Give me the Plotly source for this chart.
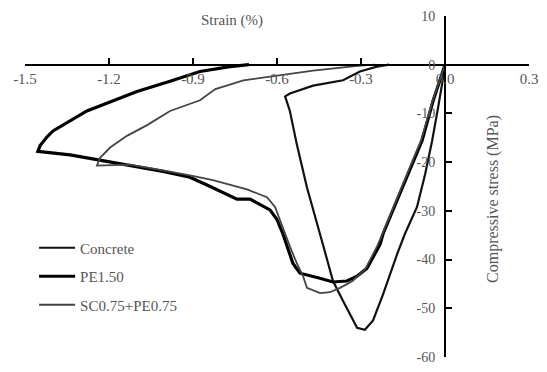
import plotly.graph_objects as go

# ---- data (strain %, stress MPa) ----
concrete_strain = [0, -0.007, -0.025, -0.046, -0.071, -0.100, -0.143, -0.171, -0.221, -0.257,
                   -0.286, -0.314, -0.364, -0.400, -0.436, -0.457, -0.493, -0.529, -0.554, -0.571,
                   -0.554, -0.471, -0.364, -0.304, -0.243, -0.20]
concrete_stress = [0, -2.8, -8.9, -15.6, -22.5, -29.2, -34.7, -38.9, -47.1, -52.5,
                   -54.4, -54.0, -48.5, -44.4, -36.9, -32.7, -25.2, -16.4, -9.5, -6.5,
                   -5.9, -4.3, -3.2, -1.4, -0.4, 0]

pe_strain = [0, -0.043, -0.082, -0.125, -0.171, -0.221, -0.232, -0.279, -0.314, -0.35,
             -0.40, -0.45, -0.50, -0.518, -0.543, -0.579, -0.60, -0.625, -0.696, -0.743,
             -0.85, -0.911, -1.007, -1.125, -1.232, -1.339, -1.454,
             -1.446, -1.421, -1.40, -1.279, -1.207, -1.10, -0.982, -0.875, -0.768, -0.70]
pe_stress = [0, -7.5, -15.6, -21.7, -27.8, -34.7, -36.9, -41.8, -43.4, -44.4,
             -44.6, -43.8, -43.0, -42.8, -40.8, -34.7, -31.8, -29.8, -27.6, -27.6,
             -24.7, -23.1, -21.9, -20.7, -19.5, -18.5, -17.8,
             -16.6, -14.8, -13.6, -9.5, -7.9, -5.5, -3.4, -1.4, -0.4, 0]

sc_strain = [0, -0.045, -0.086, -0.13, -0.176, -0.226, -0.24, -0.285, -0.33, -0.375,
             -0.411, -0.446, -0.493, -0.507, -0.529, -0.554, -0.589, -0.607, -0.636, -0.707,
             -0.829, -0.911, -1.007, -1.125, -1.243,
             -1.232, -1.196, -1.136, -1.064, -0.982, -0.875, -0.82, -0.72, -0.589, -0.471,
             -0.304, -0.25]
sc_stress = [0, -7.5, -15.6, -21.7, -27.8, -34.7, -37.0, -42.0, -44.4, -45.8,
             -46.7, -46.9, -45.8, -43.4, -40.8, -37.3, -31.8, -29.2, -27.2, -25.6,
             -23.7, -22.7, -21.7, -20.5, -20.7,
             -19.1, -17.0, -14.6, -12.4, -9.5, -7.3, -5.0, -3.2, -2.2, -1.2,
             -0.2, 0]

series_names = ["Concrete", "PE1.50", "SC0.75+PE0.75"]

x_ticks = [-1.5, -1.2, -0.9, -0.6, -0.3, 0.0, 0.3]
x_tick_labels = ["-1.5", "-1.2", "-0.9", "-0.6", "-0.3", "0.0", "0.3"]
y_ticks = [10, 0, -10, -20, -30, -40, -50, -60]
y_tick_labels = ["10", "0", "-10", "-20", "-30", "-40", "-50", "-60"]

x_title = "Strain (%)"
y_title = "Compressive stress (MPa)"

FONT = "Liberation Serif, Times New Roman, serif"
TXT = "#555555"

fig = go.Figure()
fig.add_trace(go.Scatter(x=concrete_strain, y=concrete_stress, mode="lines", name=series_names[0],
                         legendgroup="a", line=dict(color="#111111", width=2.2)))
fig.add_trace(go.Scatter(x=pe_strain, y=pe_stress, mode="lines", name=series_names[1],
                         legendgroup="b", line=dict(color="#000000", width=3.2)))
fig.add_trace(go.Scatter(x=sc_strain, y=sc_stress, mode="lines", name=series_names[2],
                         legendgroup="c", line=dict(color="#444444", width=1.8)))

xmin, xmax = -1.5, 0.3
ymin, ymax = -60, 10

# the page body adds an 8px offset, so the figure is sized 531x356
fig.update_layout(
    width=531, height=356,
    margin=dict(l=17, r=10, t=8, b=7, autoexpand=False),
    paper_bgcolor="white", plot_bgcolor="white",
    font=dict(family=FONT, size=15, color=TXT),
    showlegend=True,
    legend=dict(x=0.018, y=0.368, xanchor="left", yanchor="top",
                bgcolor="rgba(0,0,0,0)", itemwidth=36, tracegroupgap=6,
                font=dict(family=FONT, size=15, color=TXT)),
    xaxis=dict(range=[xmin, xmax], anchor="free", position=(0 - ymin) / (ymax - ymin),
               showline=True, linecolor="black", linewidth=2,
               ticks="inside", ticklen=6, tickwidth=2, tickcolor="black",
               tickvals=x_ticks, ticktext=x_tick_labels, showgrid=False, zeroline=False,
               ticklabeloverflow="allow",
               tickfont=dict(family=FONT, size=15, color=TXT)),
    yaxis=dict(range=[ymin, ymax], anchor="free", position=(0 - xmin) / (xmax - xmin),
               side="left", showline=True, linecolor="black", linewidth=2,
               ticks="inside", ticklen=6, tickwidth=2, tickcolor="black",
               tickvals=y_ticks, ticktext=y_tick_labels, showgrid=False, zeroline=False,
               ticklabeloverflow="allow", ticklabelstandoff=6,
               tickfont=dict(family=FONT, size=14, color=TXT)),
    annotations=[
        dict(text=x_title, xref="paper", yref="paper", x=0.41, y=0.988,
             xanchor="center", yanchor="middle",
             showarrow=False, font=dict(family=FONT, size=15, color=TXT)),
        dict(text=y_title, xref="paper", yref="paper", x=0.929, y=0.464, textangle=-90,
             xanchor="center", yanchor="middle",
             showarrow=False, font=dict(family=FONT, size=16, color=TXT)),
    ],
)

fig.write_html("out.html")
